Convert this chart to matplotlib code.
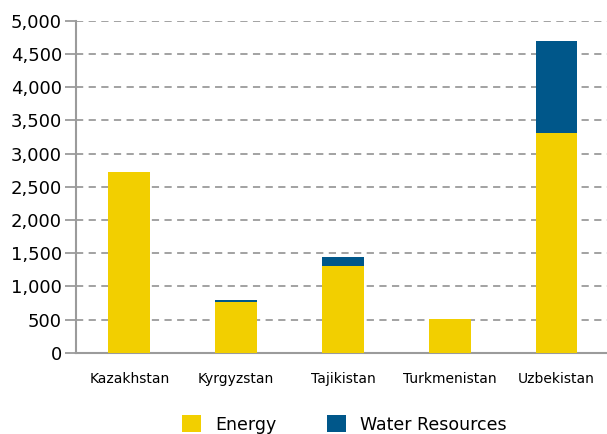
import numpy as np
import matplotlib.pyplot as plt
from matplotlib.ticker import FuncFormatter

# data
countries = ["Kazakhstan", "Kyrgyzstan", "Tajikistan", "Turkmenistan", "Uzbekistan"]
energy = [2730, 760, 1310, 510, 3310]
water = [0, 40, 130, 0, 1390]

yellow = "#F2CF00"
blue = "#00578A"
gray = "#9B9B9B"

fig = plt.figure(figsize=(6.07, 4.34), dpi=100)
ax = fig.add_axes([0.125, 0.187, 0.88, 0.765])

x = np.arange(len(countries))
ax.bar(x, energy, width=0.39, color=yellow, label="Energy", zorder=3)
ax.bar(x, water, width=0.39, bottom=energy, color=blue, label="Water Resources", zorder=3)

ax.set_xlim(-0.5, 4.5)
ax.set_ylim(0, 5000)
ax.set_yticks(np.arange(0, 5001, 500))
ax.yaxis.set_major_formatter(FuncFormatter(lambda v, p: f"{int(v):,}"))
ax.set_xticks(x)
ax.set_xticklabels(countries, fontsize=10)

ax.grid(axis="y", color=gray, linestyle=(0, (4, 3)), linewidth=1.3, zorder=0)
for s in ["top", "right"]:
    ax.spines[s].set_visible(False)
ax.spines["left"].set_color(gray)
ax.spines["bottom"].set_color(gray)
ax.spines["left"].set_linewidth(1.5)
ax.spines["bottom"].set_linewidth(1.5)
ax.tick_params(axis="y", length=8, width=1.3, color=gray, labelsize=13, pad=2)
ax.tick_params(axis="x", length=0, pad=14)

fig.legend(loc="lower center", bbox_to_anchor=(0.567, -0.035), ncol=2, frameon=False,
           fontsize=12.5, handlelength=1.1, handleheight=1.1, columnspacing=2.9)

fig.savefig("out.png", dpi=100)
